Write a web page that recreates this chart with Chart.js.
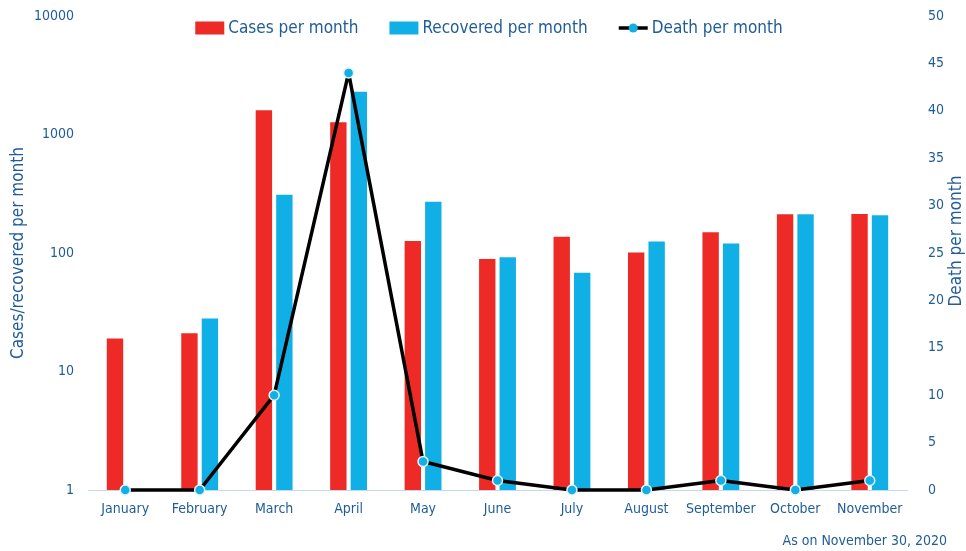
<!DOCTYPE html>
<html>
<head>
<meta charset="utf-8">
<script src="https://cdn.jsdelivr.net/npm/chart.js@4/dist/chart.umd.min.js"></script>
<style>
  body { margin: 0; background: #fff; }
  #wrap { position: relative; width: 966px; height: 551px; }
  #note {
    position: absolute; right: 19px; top: 532px;
    font: 14px "DejaVu Sans Condensed", "DejaVu Sans", sans-serif;
    color: #1f5c99;
  }
</style>
</head>
<body>
<div id="wrap">
  <canvas id="chart"></canvas>
  <div id="note">As on November 30, 2020</div>
</div>
<script>
const months = ['January', 'February', 'March', 'April', 'May', 'June', 'July', 'August', 'September', 'October', 'November']
const casesPerMonth = [19, 21, 1600, 1270, 126, 89, 137, 101, 150, 212, 213]
const recoveredPerMonth = [null, 28, 310, 2300, 271, 92, 68, 125, 120, 212, 208]
const deathPerMonth = [0, 0, 10, 44, 3, 1, 0, 0, 1, 0, 1]
const leftTicks = [1, 10, 100, 1000, 10000]

const FONT = '"DejaVu Sans Condensed", "DejaVu Sans", sans-serif'
const TEXT = '#1f5c99'
const RED = '#ee2a27'
const BLUE = '#10b0e6'

// legend drawn inside the plot area, plus the right title read bottom-to-top
const extras = {
  id: 'extras',
  afterDraw(chart) {
    const ctx = chart.ctx
    ctx.save()
    ctx.font = '17px ' + FONT
    ctx.textBaseline = 'middle'
    ctx.textAlign = 'left'
    const boxW = 29, gap = 4, spacing = 31
    const items = chart.data.datasets.map(ds => ({ label: ds.label, line: ds.type === 'line', color: ds.backgroundColor }))
    const widths = items.map(it => boxW + gap + ctx.measureText(it.label).width)
    const total = widths.reduce((a, b) => a + b, 0) + spacing * (items.length - 1)
    let x = 489 - total / 2
    const y = 28
    items.forEach((it, i) => {
      if (it.line) {
        ctx.strokeStyle = '#000'
        ctx.lineWidth = 3.5
        ctx.beginPath()
        ctx.moveTo(x, y)
        ctx.lineTo(x + boxW, y)
        ctx.stroke()
        ctx.fillStyle = BLUE
        ctx.beginPath()
        ctx.arc(x + boxW / 2, y, 4.5, 0, Math.PI * 2)
        ctx.fill()
      } else {
        ctx.fillStyle = it.color
        ctx.fillRect(x, y - 6.5, boxW, 13)
      }
      ctx.fillStyle = TEXT
      ctx.fillText(it.label, x + boxW + gap, y + 1)
      x += widths[i] + spacing
    })

    ctx.translate(957, 241)
    ctx.rotate(-Math.PI / 2)
    ctx.textAlign = 'center'
    ctx.fillText('Death per month', 0, 0)
    ctx.restore()
  }
}

// fixed axis sizes; drop the tick padding Chart.js adds above/below vertical axes
function fixY(width) {
  return scale => {
    scale.width = width
    scale.paddingTop = 0
    scale.paddingBottom = 0
  }
}

new Chart(document.getElementById('chart'), {
  data: {
    labels: months,
    datasets: [
      {
        type: 'bar',
        label: 'Cases per month',
        data: casesPerMonth,
        backgroundColor: RED,
        yAxisID: 'y',
        order: 1,
        categoryPercentage: 0.55,
        barPercentage: 0.8
      },
      {
        type: 'bar',
        label: 'Recovered per month',
        data: recoveredPerMonth,
        backgroundColor: BLUE,
        yAxisID: 'y',
        order: 1,
        categoryPercentage: 0.55,
        barPercentage: 0.8
      },
      {
        type: 'line',
        label: 'Death per month',
        data: deathPerMonth,
        borderColor: '#000',
        backgroundColor: BLUE,
        borderWidth: 3.5,
        borderJoinStyle: 'round',
        pointRadius: 5,
        pointBorderWidth: 1.5,
        pointBorderColor: '#e6f2f8',
        pointBackgroundColor: BLUE,
        tension: 0,
        yAxisID: 'y2',
        order: 0,
        clip: false
      }
    ]
  },
  options: {
    responsive: true,
    maintainAspectRatio: false,
    animation: false,
    layout: { padding: { top: 16, left: 0, right: 0, bottom: 0 }, autoPadding: false },
    plugins: {
      legend: { display: false },
      tooltip: { enabled: false }
    },
    scales: {
      x: {
        grid: { display: false, drawTicks: false },
        border: { color: '#c3daee', width: 1 },
        ticks: { color: TEXT, font: { family: FONT, size: 14 }, padding: 11, maxRotation: 0 },
        afterFit(scale) { scale.height = 61 }
      },
      y: {
        type: 'logarithmic',
        position: 'left',
        min: 1,
        max: 10000,
        grid: { display: false, drawTicks: false },
        border: { display: false },
        afterBuildTicks(scale) { scale.ticks = leftTicks.map(v => ({ value: v })) },
        ticks: {
          color: TEXT,
          font: { family: FONT, size: 14 },
          padding: 14,
          callback: v => String(v)
        },
        title: {
          display: true,
          text: 'Cases/recovered per month',
          color: TEXT,
          font: { family: FONT, size: 17, lineHeight: 1.2 },
          padding: { top: 8, bottom: 0 }
        },
        afterFit: fixY(88)
      },
      y2: {
        type: 'linear',
        position: 'right',
        min: 0,
        max: 50,
        grid: { display: false, drawTicks: false },
        border: { display: false },
        ticks: {
          color: TEXT,
          font: { family: FONT, size: 14 },
          padding: 21,
          stepSize: 5
        },
        afterFit: fixY(59)
      }
    }
  },
  plugins: [extras]
})
</script>
</body>
</html>
